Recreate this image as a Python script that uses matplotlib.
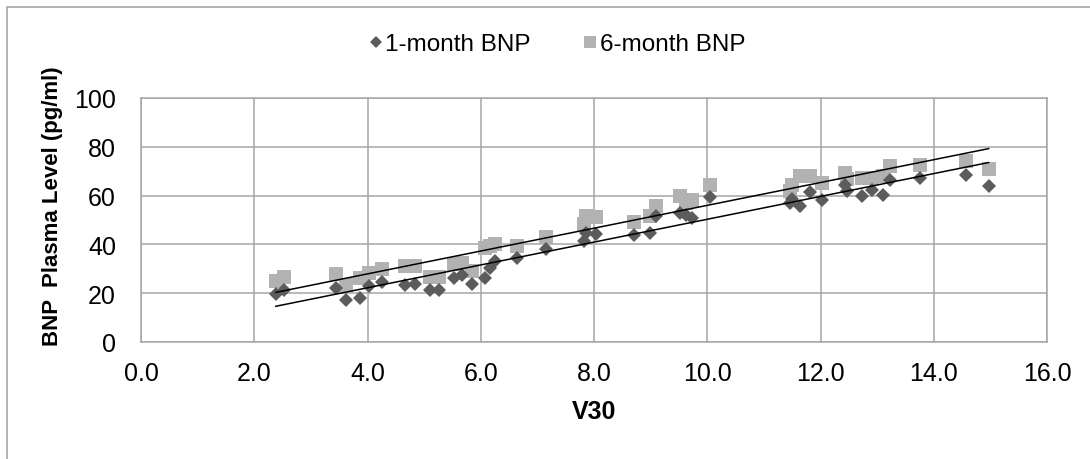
import numpy as np
import matplotlib.pyplot as plt
from matplotlib.patches import Rectangle

# V30 values (shared by both series)
v30 = [2.38, 2.52, 3.45, 3.62, 3.86, 4.02, 4.26, 4.67, 4.84, 5.11, 5.27,
       5.52, 5.67, 5.84, 6.08, 6.17, 6.25, 6.64, 7.15, 7.83, 7.85, 8.03,
       8.71, 8.99, 9.10, 9.52, 9.62, 9.73, 10.05, 11.47, 11.50, 11.63,
       11.82, 12.02, 12.44, 12.46, 12.73, 12.91, 13.10, 13.22, 13.76,
       14.57, 14.97]
bnp_1m = [19.6, 21.3, 22.0, 17.3, 18.2, 23.0, 24.4, 23.5, 23.7, 21.3, 21.3,
          26.4, 27.3, 23.7, 26.4, 30.5, 33.2, 34.6, 38.2, 41.4, 44.5, 44.1,
          43.7, 44.5, 51.6, 52.9, 52.0, 50.9, 59.4, 57.0, 58.5, 55.6,
          61.4, 58.1, 64.5, 61.8, 59.7, 62.4, 60.1, 66.5, 67.2,
          68.3, 63.8]
bnp_6m = [25.0, 26.8, 27.8, 23.4, 26.4, 28.4, 29.8, 31.1, 31.1, 26.8, 26.8,
          31.8, 32.5, 29.1, 38.6, 39.3, 40.0, 39.3, 43.0, 48.2, 51.6, 51.2,
          49.1, 51.8, 55.9, 59.7, 57.0, 58.4, 64.5, 61.8, 64.5, 67.9,
          67.9, 65.2, 69.3, 67.0, 67.2, 67.2, 68.0, 72.0, 72.7,
          74.0, 70.9]

# linear trendlines (slope, intercept)
trend_1m = (4.68, 3.5)
trend_6m = (4.68, 9.2)

x_ticks = [0, 2, 4, 6, 8, 10, 12, 14, 16]
y_ticks = [0, 20, 40, 60, 80, 100]

plt.rcParams['font.family'] = ['Liberation Sans', 'DejaVu Sans']

fig = plt.figure(figsize=(10.9, 4.6), dpi=100)
ax = fig.add_axes([141/1090, 1-343/460, (1047-141)/1090, (343-99)/460])

ax.plot(v30, bnp_6m, linestyle='none', marker='s', markersize=9.8,
        color='#b2b2b2', markeredgewidth=0, label='6-month BNP', zorder=3)
ax.plot(v30, bnp_1m, linestyle='none', marker='D', markersize=7.4,
        color='#5c5c5c', markeredgewidth=0, label='1-month BNP', zorder=4)

xl = np.array([min(v30), max(v30)])
ax.plot(xl, trend_1m[0]*xl + trend_1m[1], color='black', lw=1.1, zorder=5)
ax.plot(xl, trend_6m[0]*xl + trend_6m[1], color='black', lw=1.1, zorder=5)

ax.set_xlim(0, 16)
ax.set_ylim(0, 100)
ax.set_xticks(x_ticks)
ax.set_xticklabels([f'{t:.1f}' for t in x_ticks])
ax.set_yticks(y_ticks)
ax.tick_params(length=0, labelsize=18)
ax.tick_params(axis='x', pad=14)
ax.tick_params(axis='y', pad=18)
ax.grid(True, color='#a6a6a6', lw=1.1)
ax.set_axisbelow(True)
for s in ax.spines.values():
    s.set_color('#a6a6a6')
    s.set_linewidth(1.1)

ax.set_xlabel('V30', fontsize=18, fontweight='bold', labelpad=10)
ax.set_ylabel('BNP  Plasma Level (pg/ml)', fontsize=16, fontweight='bold')
ax.yaxis.set_label_coords(-0.086, 0.56)

h, l = ax.get_legend_handles_labels()
leg = fig.legend(h[::-1], l[::-1], loc='center', bbox_to_anchor=(557/1090, 1-45/460),
                 ncol=2, frameon=False, fontsize=17.5, handlelength=0.55,
                 handletextpad=0.1, columnspacing=2.2, markerscale=0.85)

fig.patches.append(Rectangle((7/1090, -0.1), 1.2, 1.1 - 8/460,
                             transform=fig.transFigure, fill=False,
                             edgecolor='#a6a6a6', lw=1.2))

fig.savefig('out.png', dpi=100)
